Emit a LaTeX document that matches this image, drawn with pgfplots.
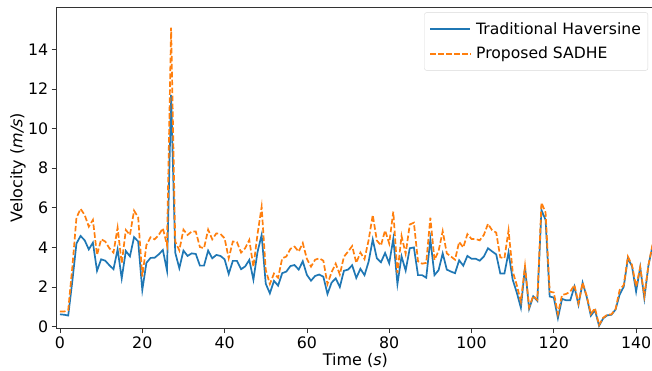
\documentclass[border=0pt]{standalone}
\usepackage{fontspec}
\setmainfont{DejaVu Sans}
\usepackage{pgfplots}
\pgfplotsset{compat=1.18}
\usepackage{pgfplotstable}
\definecolor{tabblue}{HTML}{1F77B4}
\definecolor{taborange}{HTML}{FF7F0E}

\pgfplotstableread{
t v
0 0.62
1 0.60
2 0.56
3 2.3
4 4.2
5 4.58
6 4.36
7 3.9
8 4.24
9 2.82
10 3.4
11 3.33
12 3.1
13 2.9
14 3.9
15 2.44
16 3.82
17 3.55
18 4.52
19 4.3
20 1.85
21 3.22
22 3.47
23 3.48
24 3.65
25 3.87
26 2.83
27 11.7
28 3.74
29 2.95
30 3.84
31 3.57
32 3.7
33 3.67
34 3.08
35 3.08
36 3.84
37 3.45
38 3.62
39 3.57
40 3.4
41 2.66
42 3.32
43 3.32
44 2.9
45 3.04
46 3.37
47 2.37
48 3.77
49 4.63
50 2.17
51 1.68
52 2.31
53 2.07
54 2.7
55 2.78
56 3.06
57 3.11
58 2.88
59 3.3
60 2.61
61 2.32
62 2.56
63 2.63
64 2.52
65 1.65
66 2.22
67 2.44
68 2.0
69 2.82
70 2.88
71 3.1
72 2.46
73 2.92
74 2.6
75 3.28
76 4.4
77 3.45
78 3.25
79 3.72
80 3.2
81 4.44
82 2.15
83 3.55
84 2.83
85 3.96
86 4.0
87 2.6
88 2.6
89 2.47
90 4.41
91 2.6
92 2.85
93 3.7
94 2.88
95 2.78
96 2.7
97 3.35
98 3.08
99 3.57
100 3.43
101 3.43
102 3.33
103 3.54
104 3.96
105 3.8
106 3.65
107 2.68
108 2.68
109 3.75
110 2.38
111 1.72
112 0.95
113 3.0
114 0.9
115 1.53
116 1.3
117 5.89
118 5.39
119 1.52
120 1.47
121 0.43
122 1.4
123 1.33
124 1.33
125 2.02
126 1.1
127 2.22
128 1.5
129 0.55
130 0.83
131 0.04
132 0.42
133 0.57
134 0.6
135 0.86
136 1.62
137 2.02
138 3.45
139 3.05
140 1.77
141 3.0
142 1.43
143 3.1
144 4.08
}\trad

\pgfplotstableread{
t v
0 0.76
1 0.76
2 0.84
3 3.0
4 5.5
5 5.95
6 5.64
7 5.05
8 5.39
9 3.62
10 4.41
11 4.3
12 3.96
13 3.74
14 5.0
15 3.2
16 4.88
17 4.63
18 5.86
19 5.52
20 2.53
21 4.12
22 4.51
23 4.41
24 4.63
25 4.97
26 4.12
27 15.1
28 4.3
29 3.85
30 4.9
31 4.63
32 4.8
33 4.8
34 4.02
35 3.96
36 4.9
37 4.41
38 4.71
39 4.68
40 4.46
41 3.45
42 4.3
43 4.27
44 3.74
45 3.96
46 4.38
47 3.02
48 4.67
49 6.05
50 2.86
51 2.15
52 2.68
53 2.47
54 3.45
55 3.54
56 3.93
57 4.04
58 3.79
59 4.22
60 3.42
61 3.03
62 3.38
63 3.45
64 3.33
65 2.15
66 2.75
67 3.18
68 2.63
69 3.53
70 3.79
71 4.07
72 3.22
73 3.74
74 3.41
75 4.37
76 5.64
77 4.35
78 4.1
79 4.86
80 4.2
81 5.81
82 2.7
83 4.58
84 3.68
85 5.16
86 5.25
87 3.3
88 3.18
89 3.22
90 5.5
91 3.37
92 3.82
93 4.82
94 3.7
95 3.54
96 3.38
97 4.28
98 4.0
99 4.67
100 4.43
101 4.42
102 4.36
103 4.63
104 5.19
105 4.87
106 4.75
107 3.5
108 3.45
109 4.86
110 2.8
111 2.1
112 1.26
113 3.06
114 0.98
115 1.55
116 1.35
117 6.26
118 5.76
119 1.77
120 1.72
121 0.64
122 1.6
123 1.65
124 1.77
125 2.1
126 1.18
127 2.22
128 1.55
129 0.64
130 0.93
131 0.08
132 0.45
133 0.6
134 0.62
135 0.88
136 1.85
137 2.1
138 3.54
139 3.11
140 2.02
141 3.0
142 1.55
143 3.11
144 4.15
}\sadhe

\begin{document}
\begin{tikzpicture}
\begin{axis}[
  at={(56.7pt,42pt)}, anchor=south west,
  scale only axis,
  width=597.3pt, height=320.7pt,
  xmin=-0.8, xmax=144.35,
  ymin=-0.07, ymax=16.13,
  xtick={0,20,...,140},
  ytick={0,2,...,14},
  tick align=outside,
  tick pos=left,
  major tick length=5pt,
  axis line style={black!80, line width=0.8pt},
  every tick/.style={black!80, line width=0.8pt},
  /pgf/number format/assume math mode=true,
  tick label style={font=\fontsize{15.8}{19}\selectfont},
  xlabel={Time (\textit{s})},
  ylabel={Velocity (\textit{m/s})},
  label style={font=\fontsize{16}{19}\selectfont},
  xlabel style={at={(axis description cs:0.5,-0.10)}, anchor=center},
  ylabel style={at={(axis description cs:-0.065,0.5)}, anchor=center},
  legend style={at={(0.99,0.984)}, anchor=north east,
    draw=black!15, rounded corners=2pt, fill=white,
    font=\fontsize{15.6}{19}\selectfont, inner xsep=5pt, inner ysep=8pt,
    row sep=7pt},
  legend cell align=left,
  legend image code/.code={\draw[#1] (0pt,0pt) -- (40pt,0pt);},
]
\addplot[color=tabblue, line width=1.7pt] table[x=t, y=v] {\trad};
\addlegendentry{\hspace*{3pt}Traditional Haversine}
\addplot[color=taborange, line width=1.7pt, dash pattern=on 5.55pt off 2.4pt] table[x=t, y=v] {\sadhe};
\addlegendentry{\hspace*{3pt}Proposed SADHE}
\end{axis}
\pgfresetboundingbox
\useasboundingbox (0,0) rectangle (652pt,370pt);
\end{tikzpicture}
\end{document}
